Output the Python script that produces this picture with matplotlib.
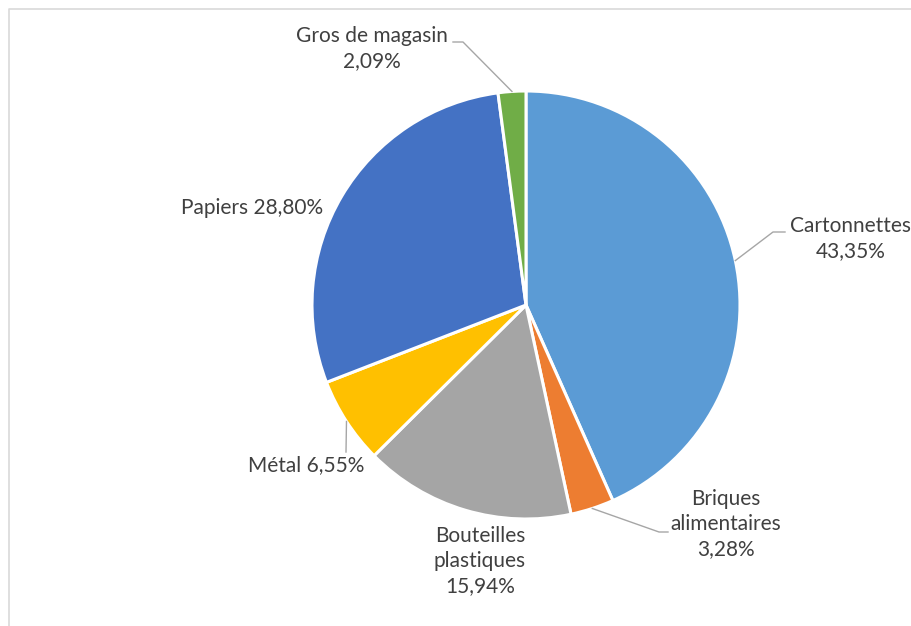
import numpy as np
import matplotlib.pyplot as plt

# Data (percentages)
categories = ['Cartonnettes', 'Briques alimentaires', 'Bouteilles plastiques',
              'Métal', 'Papiers', 'Gros de magasin']
values = [43.35, 3.28, 15.94, 6.55, 28.80, 2.09]
label_texts = ['Cartonnettes\n43,35%', 'Briques\nalimentaires\n3,28%',
               'Bouteilles\nplastiques\n15,94%', 'Métal 6,55%',
               'Papiers 28,80%', 'Gros de magasin\n2,09%']
colors = ['#5B9BD5', '#ED7D31', '#A5A5A5', '#FFC000', '#4472C4', '#70AD47']

W, H = 912, 626
fig = plt.figure(figsize=(W / 100, H / 100), dpi=100)
ax = fig.add_axes([0, 0, 1, 1])

cx, cy, r = 526, H - 305, 214

wedges, _ = ax.pie(values, colors=colors, startangle=90, counterclock=False,
                   center=(cx, cy), radius=r, frame=True,
                   wedgeprops=dict(edgecolor='white', linewidth=2.2))
ax.set_xlim(0, W)
ax.set_ylim(0, H)
ax.axis('off')

# chart area border (cropped on the right and bottom)
ax.plot([9, 9, W + 5], [-5, H - 9, H - 9], color='#D9D9D9', lw=1.2,
        solid_capstyle='butt')

# label positions (pixel coordinates from the top-left)
label_pos = {
    'Cartonnettes': (851, 239),
    'Briques alimentaires': (726, 524),
    'Bouteilles plastiques': (480, 561),
    'Métal': (306, 465),
    'Papiers': (252, 208),
    'Gros de magasin': (372, 49),
}
# leader line bend / end points (pixel coordinates)
leaders = {
    'Cartonnettes': [(773, 232), (785, 232)],
    'Briques alimentaires': [(659, 532), (668, 532)],
    'Métal': [(346, 452)],
    'Gros de magasin': [(463, 42), (453, 42)],
}

font = ['Lato', 'DejaVu Sans']
for w, cat, txt in zip(wedges, categories, label_texts):
    px, py = label_pos[cat]
    ax.text(px, H - py, txt, ha='center', va='center', fontsize=15,
            color='#404040', family=font, linespacing=1.32)
    if cat in leaders:
        ang = np.deg2rad((w.theta1 + w.theta2) / 2)
        sx, sy = cx + r * np.cos(ang), cy + r * np.sin(ang)
        xs = [sx] + [p[0] for p in leaders[cat]]
        ys = [sy] + [H - p[1] for p in leaders[cat]]
        ax.plot(xs, ys, color='#A6A6A6', lw=1.0)

fig.savefig('out.png', dpi=100)
